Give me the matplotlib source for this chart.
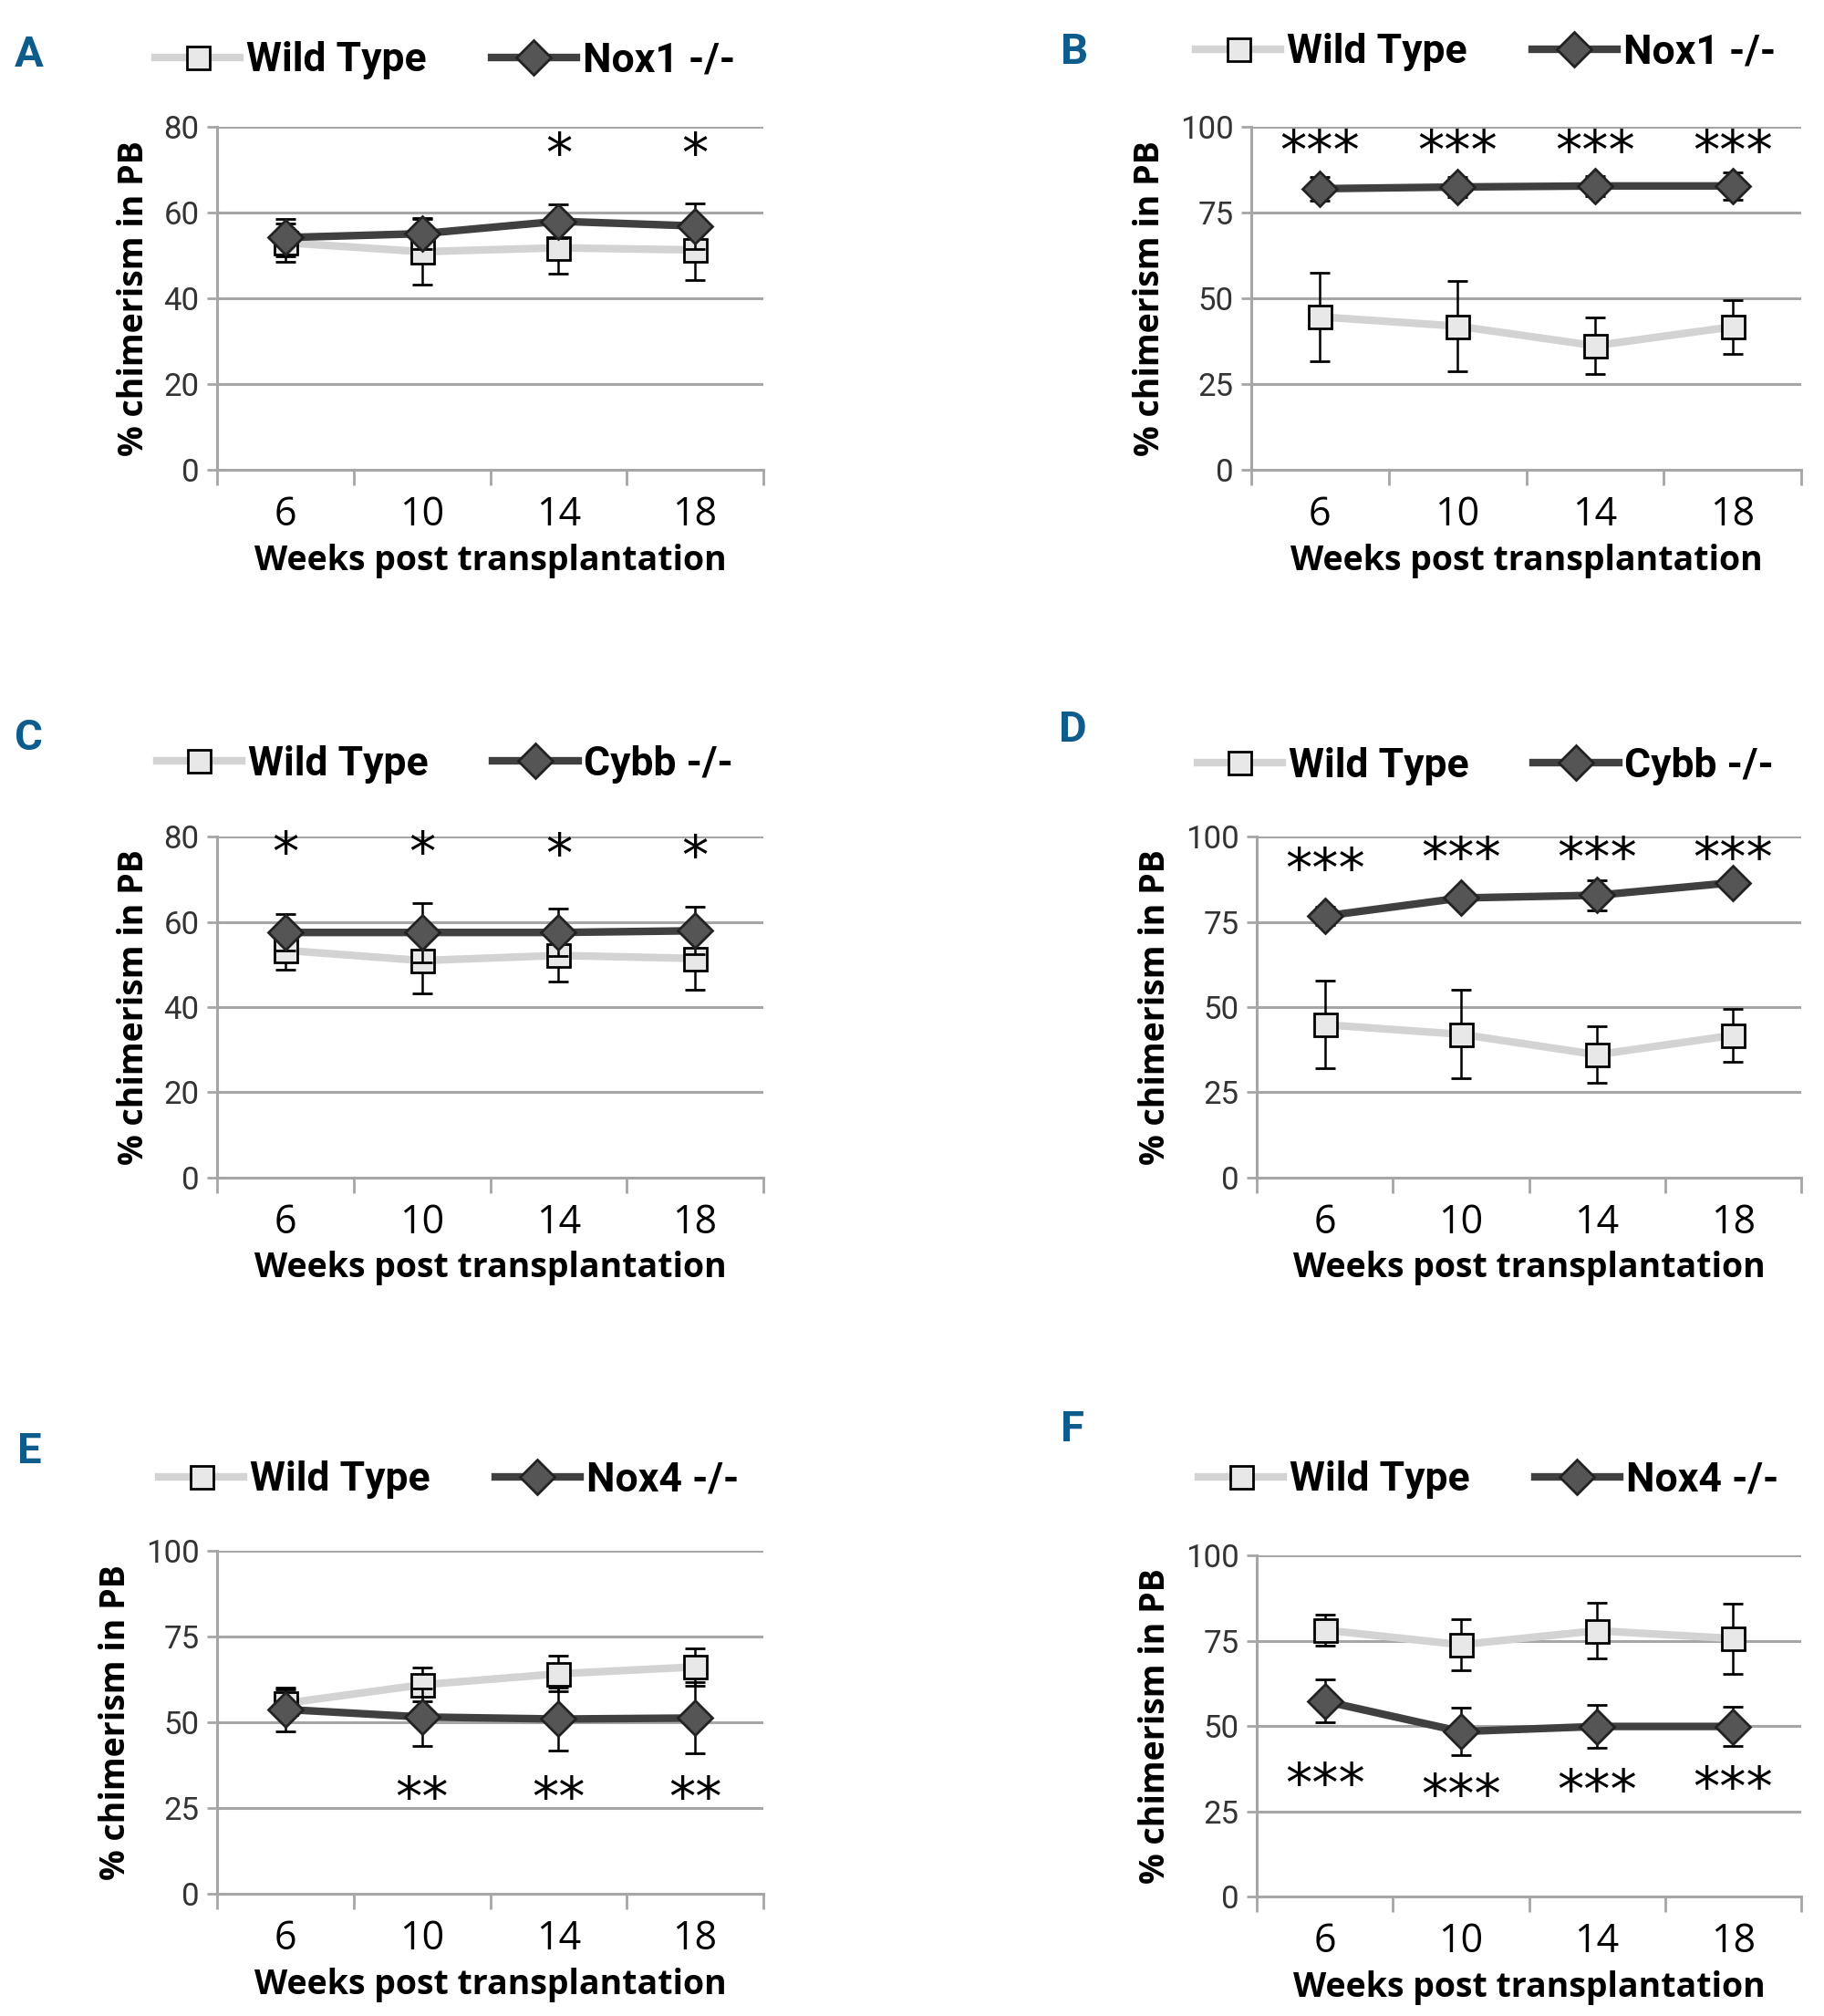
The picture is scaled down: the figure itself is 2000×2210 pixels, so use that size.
import matplotlib.pyplot as plt
from matplotlib.lines import Line2D
import numpy as np

# x categories
weeks = ["6", "10", "14", "18"]

# panel A: Wild Type vs Nox1 -/-
a_wt = [53.0, 50.9, 51.8, 51.3]
a_wt_err = [4.5, 7.6, 6.0, 7.0]
a_ko = [54.2, 55.1, 58.0, 56.9]
a_ko_err = [4.3, 3.6, 4.0, 5.3]
a_stars = ["", "", "*", "*"]

# panel B: Wild Type vs Nox1 -/-
b_wt = [44.6, 41.9, 36.2, 41.7]
b_wt_err = [13.0, 13.2, 8.3, 7.8]
b_ko = [82.0, 82.5, 82.8, 82.8]
b_ko_err = [3.5, 3.0, 3.0, 4.0]
b_stars = ["***", "***", "***", "***"]

# panel C: Wild Type vs Cybb -/-
c_wt = [53.3, 50.9, 52.1, 51.4]
c_wt_err = [4.5, 7.7, 6.2, 7.3]
c_ko = [57.5, 57.5, 57.5, 57.9]
c_ko_err = [4.3, 7.0, 5.6, 5.6]
c_stars = ["*", "*", "*", "*"]

# panel D: Wild Type vs Cybb -/-
d_wt = [44.8, 42.0, 36.0, 41.7]
d_wt_err = [12.9, 13.0, 8.3, 7.7]
d_ko = [76.7, 82.0, 82.8, 86.5]
d_ko_err = [2.7, 2.0, 4.5, 1.0]
d_stars = ["***", "***", "***", "***"]

# panel E: Wild Type vs Nox4 -/-
e_wt = [55.6, 61.0, 64.2, 66.2]
e_wt_err = [4.0, 4.9, 5.2, 5.4]
e_ko = [53.8, 51.6, 51.0, 51.3]
e_ko_err = [6.3, 8.4, 9.3, 10.4]
e_stars = ["", "**", "**", "**"]

# panel F: Wild Type vs Nox4 -/-
f_wt = [78.2, 73.9, 78.0, 75.7]
f_wt_err = [4.6, 7.5, 8.2, 10.3]
f_ko = [57.3, 48.4, 49.9, 49.9]
f_ko_err = [6.3, 6.9, 6.2, 5.7]
f_stars = ["***", "***", "***", "***"]

GRID = "#a6a6a6"
WT_LINE = "#d3d3d3"
WT_FACE = "#e8e8e8"
KO_LINE = "#404040"
KO_FACE = "#555555"
BLUE = "#0e5c8c"

panels = [
    # letter, rect, letter pos, legend pos, ymax, ystep, ko label, data, star heights
    ("A", [0.119, 0.767, 0.2995, 0.170], (0.016, 0.973), (0.244, 0.970), 80, 20, "Nox1 -/-",
     a_wt, a_wt_err, a_ko, a_ko_err, a_stars, [75, 75, 75, 75]),
    ("B", [0.686, 0.767, 0.3015, 0.170], (0.589, 0.974), (0.8145, 0.974), 100, 25, "Nox1 -/-",
     b_wt, b_wt_err, b_ko, b_ko_err, b_stars, [94.5, 94.5, 94.5, 94.5]),
    ("C", [0.119, 0.416, 0.2995, 0.169], (0.016, 0.634), (0.244, 0.621), 80, 20, "Cybb -/-",
     c_wt, c_wt_err, c_ko, c_ko_err, c_stars, [77.5, 77.5, 77, 76.5]),
    ("D", [0.689, 0.416, 0.2985, 0.169], (0.588, 0.638), (0.8145, 0.620), 100, 25, "Cybb -/-",
     d_wt, d_wt_err, d_ko, d_ko_err, d_stars, [92, 95.3, 95.3, 95.3]),
    ("E", [0.119, 0.0606, 0.2995, 0.170], (0.016, 0.280), (0.246, 0.266), 100, 25, "Nox4 -/-",
     e_wt, e_wt_err, e_ko, e_ko_err, e_stars, [29.5, 29.5, 29.5, 29.5]),
    ("F", [0.689, 0.0593, 0.2985, 0.169], (0.588, 0.291), (0.816, 0.266), 100, 25, "Nox4 -/-",
     f_wt, f_wt_err, f_ko, f_ko_err, f_stars, [34.5, 31.3, 32.5, 33.3]),
]

fig = plt.figure(figsize=(20, 22.1), dpi=100)

for (letter, rect, lpos, legpos, ymax, ystep, ko_label,
     wt, wt_err, ko, ko_err, stars, star_y) in panels:
    ax = fig.add_axes(rect)
    x = np.arange(len(weeks))

    ax.errorbar(x, wt, yerr=wt_err, color=WT_LINE, lw=6, marker="s", ms=18,
                mfc=WT_FACE, mec="black", mew=2, ecolor="black", elinewidth=1.8,
                capsize=8, capthick=1.8, zorder=3)
    ax.errorbar(x, ko, yerr=ko_err, color=KO_LINE, lw=6, marker="D", ms=19,
                mfc=KO_FACE, mec="#222222", mew=2, ecolor="black", elinewidth=1.8,
                capsize=8, capthick=1.8, zorder=4)

    # significance marks
    for xi, s, sy in zip(x, stars, star_y):
        if s:
            ax.annotate(s, (xi, sy), xytext=(0, -6), textcoords="offset points",
                        ha="center", va="center", fontsize=42,
                        family="DejaVu Sans", color="black", zorder=5)

    ax.set_xlim(-0.5, 3.5)
    ax.set_ylim(0, ymax)
    ax.set_yticks(np.arange(0, ymax + 1, ystep))
    ax.set_xticks(np.arange(-0.5, 4, 1))
    ax.set_xticklabels([])
    ax.set_xticks(x, minor=True)
    ax.set_xticklabels(weeks, minor=True, fontsize=31, family="Open Sans")
    ax.tick_params(axis="x", which="minor", length=0, pad=20)
    ax.tick_params(axis="x", which="major", length=12, width=2, color=GRID)
    ax.tick_params(axis="y", length=8, width=2, color=GRID, pad=6)
    for t in ax.get_yticklabels():
        t.set_fontsize(25)
        t.set_family("Roboto")
        t.set_color("#333333")

    ax.grid(axis="y", color=GRID, lw=2.2, zorder=0)
    ax.set_axisbelow(True)
    for sp in ["top", "right"]:
        ax.spines[sp].set_visible(False)
    for sp in ["left", "bottom"]:
        ax.spines[sp].set_color(GRID)
        ax.spines[sp].set_linewidth(2.2)

    ax.set_ylabel("% chimerism in PB", fontsize=27, fontweight="bold",
                  family="Open Sans", labelpad=10)
    ax.set_xlabel("Weeks post transplantation", fontsize=27, fontweight="bold",
                  family="Open Sans", labelpad=6)

    handles = [
        Line2D([], [], color=WT_LINE, lw=6, marker="s", ms=18, mfc=WT_FACE,
               mec="black", mew=2),
        Line2D([], [], color=KO_LINE, lw=6, marker="D", ms=19, mfc=KO_FACE,
               mec="#222222", mew=2),
    ]
    ax.legend(handles, ["Wild Type", ko_label], loc="center",
              bbox_to_anchor=legpos, bbox_transform=fig.transFigure, ncol=2,
              frameon=False, handlelength=2.1, handletextpad=0.15,
              columnspacing=1.6,
              prop={"family": "Roboto", "weight": "bold", "size": 32})

    fig.text(lpos[0], lpos[1], letter, color=BLUE, fontsize=34, fontweight="bold",
             family="Roboto", ha="center", va="center")

fig.savefig("out.png", dpi=100, facecolor="white")
